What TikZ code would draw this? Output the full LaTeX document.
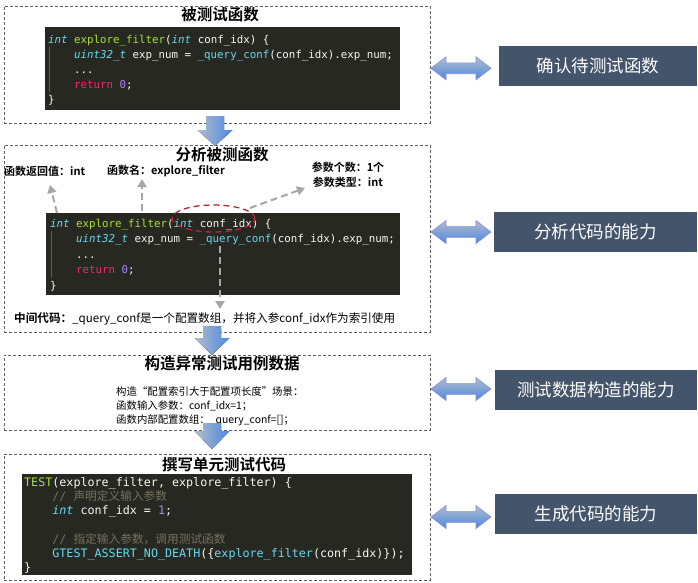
\documentclass[tikz,border=0pt]{standalone}
\usepackage{fontspec}
\setmainfont{Noto Sans CJK SC}[BoldFont={Noto Sans CJK SC Bold}]
\setmonofont{DejaVu Sans Mono}
\newfontfamily\cjkmono{Noto Sans CJK SC}
\usetikzlibrary{arrows.meta,shapes.geometric,calc}
\definecolor{codebg}{HTML}{272822}
\definecolor{cfg}{HTML}{F8F8F2}
\definecolor{ccy}{HTML}{66D9EF}
\definecolor{cgr}{HTML}{A6E22E}
\definecolor{cre}{HTML}{F92672}
\definecolor{cnu}{HTML}{AE81FF}
\definecolor{ccm}{HTML}{75715E}
\definecolor{slate}{HTML}{44546A}
\definecolor{boxgray}{HTML}{606060}
\definecolor{argray}{HTML}{A6A6A6}
\definecolor{redc}{HTML}{C0202E}
\definecolor{arlight}{HTML}{B4BCCB}
\definecolor{arblue}{HTML}{4A88E0}
\definecolor{arpurple}{HTML}{8C8CD8}
\newcommand\cIt[1]{\textcolor{ccy}{\itshape #1}}
\newcommand\cFn[1]{\textcolor{cgr}{#1}}
\newcommand\cCy[1]{\textcolor{ccy}{#1}}
\newcommand\cRe[1]{\textcolor{cre}{#1}}
\newcommand\cNu[1]{\textcolor{cnu}{#1}}
\newcommand\cCm[1]{\textcolor{ccm}{#1}}
\tikzset{
  dbox/.style={draw=boxgray, dash pattern=on 3pt off 2pt, line width=0.8pt, anchor=north west, inner sep=0pt},
  codepanel/.style={fill=codebg, draw=none, anchor=north west, inner sep=0pt},
  codeA/.style={anchor=base west, inner sep=0pt, text=cfg, font=\ttfamily\fontsize{10.8}{12}\selectfont},
  codeB/.style={anchor=base west, inner sep=0pt, text=cfg, font=\ttfamily\fontsize{11.7}{13}\selectfont},
  title/.style={inner sep=0pt, font=\bfseries\fontsize{15.5}{17}\selectfont},
  lab/.style={inner sep=0pt, font=\bfseries\fontsize{11}{15}\selectfont},
  skill/.style={fill=slate, text=white, inner sep=0pt, minimum height=40pt, font=\fontsize{17.5}{19}\selectfont},
  garrow/.style={draw=argray, line width=2pt, dash pattern=on 7pt off 4pt, -{Triangle[width=9pt,length=8pt]}},
  downarr/.style={left color=arlight, right color=arblue, draw=none},
  dblarr/.style={top color=arlight, bottom color=arblue, draw=arpurple, line width=0.6pt},
  guide/.style={draw=white!25!codebg, line width=0.6pt}
}
\begin{document}
\begin{tikzpicture}[x=1pt, y=-1pt]
\useasboundingbox (0,0) rectangle (698,582);

% ---------- dashed boxes ----------
\node[dbox, minimum width=426pt, minimum height=117pt] (b1) at (4,6) {};
\node[dbox, minimum width=426pt, minimum height=187pt] (b2) at (4,145) {};
\node[dbox, minimum width=426pt, minimum height=75pt] (b3) at (4,355) {};
\node[dbox, minimum width=426pt, minimum height=126pt] (b4) at (4,454) {};

% ---------- titles ----------
\node[title] (t1) at (220,15) {被测试函数};
\node[title] (t2) at (222,155) {分析被测函数};
\node[title] (t3) at (222,364) {构造异常测试用例数据};
\node[title] (t4) at (224,465) {撰写单元测试代码};

% ---------- code panel 1 ----------
\node[codepanel, minimum width=355pt, minimum height=83pt] (p1) at (45,27) {};
\draw[guide] (49.5,47) -- (49.5,92);
\node[codeA] (p1l1) at (48,43) {\cIt{int} \cFn{explore\_filter}(\cIt{int} conf\_idx) \{};
\node[codeA] (p1l2) at (74,58) {\cIt{uint32\_t} exp\_num = \cCy{\_query\_conf}(conf\_idx).exp\_num;};
\node[codeA] (p1l3) at (74,73) {...};
\node[codeA] (p1l4) at (74,88) {\cRe{return} \cNu{0};};
\node[codeA] (p1l5) at (48,103) {\}};

% ---------- code panel 2 ----------
\node[codepanel, minimum width=354pt, minimum height=82pt] (p2) at (46,213) {};
\draw[guide] (51.5,231) -- (51.5,278);
\node[codeA] (p2l1) at (50,227) {\cIt{int} \cFn{explore\_filter}(\cIt{int} conf\_idx) \{};
\node[codeA] (p2l2) at (76,242.5) {\cIt{uint32\_t} exp\_num = \cCy{\_query\_conf}(conf\_idx).exp\_num;};
\node[codeA] (p2l3) at (76,258) {...};
\node[codeA] (p2l4) at (76,273.5) {\cRe{return} \cNu{0};};
\node[codeA] (p2l5) at (50,289) {\}};

% red dashed ellipse
\node[ellipse, draw=redc, line width=1.3pt, dash pattern=on 6pt off 4pt, minimum width=83pt, minimum height=27pt, inner sep=0pt] (circ) at (213.5,218.5) {};

% labels
\node[lab, anchor=west] (lret) at (4,171) {函数返回值：int};
\node[lab, anchor=west] (lname) at (107,171) {函数名：explore\_filter};
\node[lab, align=center] (lpar) at (348,174.5) {参数个数：1个\\参数类型：int};
\node[anchor=west, inner sep=0pt, font=\fontsize{11.6}{13}\selectfont] (mid) at (14,319) {\textbf{中间代码：}\_query\_conf是一个配置数组，并将入参conf\_idx作为索引使用};

% gray dashed arrows
\coordinate (s1) at (57,213);
\coordinate (e1) at (50,185);
\coordinate (s2) at (142,211);
\coordinate (e2) at (142,179);
\coordinate (s3) at (250,208);
\coordinate (e3) at (305,188);
\coordinate (s4) at (220,246);
\coordinate (e4) at (220,309);
\draw[garrow] (s1) -- (e1);
\draw[garrow] (s2) -- (e2);
\draw[garrow] (s3) -- (e3);
\draw[garrow] (s4) -- (e4);

% ---------- box 3 text ----------
\node[anchor=west, align=left, inner sep=0pt, font=\fontsize{10.4}{14}\selectfont] (d3) at (116,406) {构造“配置索引大于配置项长度”场景：\\函数输入参数：conf\_idx=1；\\函数内部配置数组：\_query\_conf=[]；};

% ---------- code panel 4 ----------
\node[codepanel, minimum width=390pt, minimum height=101pt] (p4) at (22,474) {};
\node[codeB] (p4l1) at (24,486.2) {\cFn{TEST}(explore\_filter, explore\_filter) \{};
\node[codeB] (p4l2) at (52.2,500.4) {\cCm{// {\cjkmono 声明定义输入参数}}};
\node[codeB] (p4l3) at (52.2,514.6) {\cIt{int} conf\_idx = \cNu{1};};
\node[codeB] (p4l5) at (52.2,543) {\cCm{// {\cjkmono 指定输入参数，调用测试函数}}};
\node[codeB] (p4l6) at (52.2,557.2) {\cCy{GTEST\_ASSERT\_NO\_DEATH}(\{\cCy{explore\_filter}(conf\_idx)\});};
\node[codeB] (p4l7) at (24,571.4) {\}};

% ---------- down block arrows ----------
\fill[downarr] (206,116) -- (224,116) -- (224,130) -- (232.5,130) -- (215,146) -- (197.5,130) -- (206,130) -- cycle;
\fill[downarr] (203,326) -- (221,326) -- (221,338) -- (229.5,338) -- (212,355) -- (194.5,338) -- (203,338) -- cycle;
\fill[downarr] (203,423) -- (221,423) -- (221,431) -- (229.5,431) -- (212,449) -- (194.5,431) -- (203,431) -- cycle;

% ---------- skill blocks ----------
\node[skill, minimum width=198pt] (k1) at (598,66) {确认待测试函数};
\node[skill, minimum width=203pt] (k2) at (595.5,232) {分析代码的能力};
\node[skill, minimum width=202pt] (k3) at (596,390) {测试数据构造的能力};
\node[skill, minimum width=202pt] (k4) at (596,513.5) {生成代码的能力};

% ---------- double arrows ----------
\foreach \cy in {68.3,232,389,517}{
  \draw[dblarr] (431,\cy) -- (446,\cy-11.5) -- (446,\cy-5.4) -- (476,\cy-5.4) -- (476,\cy-11.5) -- (491,\cy) -- (476,\cy+11.5) -- (476,\cy+5.4) -- (446,\cy+5.4) -- (446,\cy+11.5) -- cycle;
}
\end{tikzpicture}
\end{document}
